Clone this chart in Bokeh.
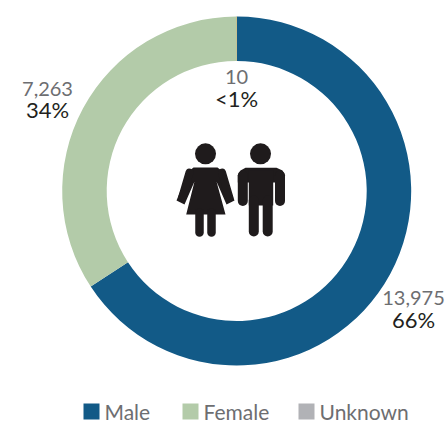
from math import pi
from bokeh.embed import file_html
from bokeh.models import Range1d, Label
from bokeh.plotting import figure
from bokeh.resources import INLINE
from bokeh.core.properties import value

categories = ["Male", "Female", "Unknown"]
counts = [13975, 7263, 10]
count_labels = ["13,975", "7,263", "10"]
pct_labels = ["66%", "34%", "<1%"]
ring_colors = ["#125a87", "#b3cba9", "#d9b44a"]
swatch_colors = ["#125a87", "#b3cba9", "#b1b2b6"]

FONT = value("Lato")
GREY = "#6d6e71"
DARK = "#231f20"
ICON = "#1f1b1c"

W, H = 446, 421
p = figure(width=W, height=H, output_backend="svg", toolbar_location=None,
           x_range=Range1d(0, W), y_range=Range1d(-H, 0),
           min_border=0, outline_line_color=None)
p.axis.visible = False
p.grid.visible = False
p.background_fill_color = "white"
p.border_fill_color = "white"

# Ring, clockwise from the top
cx, cy, r_in, r_out = 236.2, -190.5, 130.0, 174.5
total = sum(counts)
starts, ends, acc = [], [], 0
for c in counts:
    starts.append(pi / 2 - 2 * pi * (acc + c) / total)
    ends.append(pi / 2 - 2 * pi * acc / total)
    acc += c
p.annular_wedge(x=cx, y=cy, inner_radius=r_in, outer_radius=r_out,
                start_angle=starts, end_angle=ends, color=ring_colors,
                line_color=None)

# Value labels
label_x = [413, 47, 236]
count_y = [297, 88, 76]
pct_y = [319, 109, 98]
p.text(x=label_x, y=[-v for v in count_y], text=count_labels, text_font=FONT,
       text_font_size="20px", text_color=GREY, text_align="center", text_baseline="middle")
p.text(x=label_x, y=[-v for v in pct_y], text=pct_labels, text_font=FONT,
       text_font_size="22px", text_color=DARK, text_align="center", text_baseline="middle")

# Legend
sw_x = [83, 182, 298]
p.rect(x=[v + 8 for v in sw_x], y=[-411] * 3, width=16, height=16,
       color=swatch_colors, line_color=None)
for sx, name in zip(sw_x, categories):
    p.add_layout(Label(x=sx + 21, y=-410.5, text=name, text_font="Lato",
                       text_font_size="21px", text_color=GREY,
                       text_align="left", text_baseline="middle"))

# Pictogram: heads
p.circle(x=[205, 260], y=[-153.3, -153.3], radius=10.5, color=ICON, line_color=None)

# Woman
woman_x = [193, 217, 222, 234, 226, 216, 225, 185.7, 194, 184, 176, 188]
woman_y = [167, 167, 171, 200, 204, 181, 214, 214, 181, 204, 200, 171]
p.patch(x=woman_x, y=[-v for v in woman_y], color=ICON, line_color=None)
p.multi_line(xs=[[199, 199], [211, 211]], ys=[[-212, -232], [-212, -232]],
             line_color=ICON, line_width=8.5, line_cap="round")
p.multi_line(xs=[[181.5, 189], [229, 221.5]], ys=[[-197.5, -172], [-197.5, -172]],
             line_color=ICON, line_width=8, line_cap="round")

# Man
man_x = [245, 276, 282, 284.5, 284.5, 237.3, 237.3, 240]
man_y = [167.3, 167.3, 170, 175, 182, 182, 175, 170]
p.patch(x=man_x, y=[-v for v in man_y], color=ICON, line_color=None)
p.quad(left=[248.3], right=[272.7], top=[-170], bottom=[-205], color=ICON, line_color=None)
p.multi_line(xs=[[242.3, 242.3], [279.5, 279.5], [253.3, 253.3], [267.2, 267.2]],
             ys=[[-175, -200.5], [-175, -200.5], [-200, -231], [-200, -231]],
             line_color=ICON, line_width=10, line_cap="round")

open("out.html", "w").write(file_html(p, INLINE))
